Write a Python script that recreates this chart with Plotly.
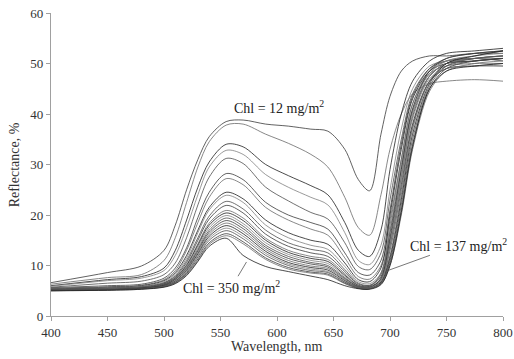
import plotly.graph_objects as go

# Knot wavelengths (nm) at which each reflectance spectrum is sampled
wavelength_nm = [400, 450, 480, 500, 510, 520, 530, 540, 555, 570, 590, 610, 630,
                 645, 660, 672, 682, 692, 700, 710, 720, 735, 750, 775, 800]

# Reflectance (%) per leaf sample, from lowest to highest chlorophyll content
r01 = [6.6, 8.6, 9.9, 13.0, 18.0, 25.0, 31.0, 35.5, 38.5, 38.8, 38.0, 37.6, 37.0,
       36.6, 33.0, 27.0, 24.8, 36.0, 43.5, 48.5, 50.5, 51.5, 51.5, 52.0, 52.0]
r02 = [6.3, 7.6, 8.2, 11.0, 15.5, 22.5, 29.5, 34.5, 37.8, 38.0, 36.0, 34.2, 32.0,
       29.5, 23.5, 17.5, 16.0, 24.0, 33.0, 40.0, 44.0, 46.0, 46.5, 46.8, 46.5]
r03 = [6.0, 7.2, 7.8, 9.5, 13.0, 19.0, 25.5, 30.5, 34.0, 33.5, 30.0, 27.8, 25.8,
       24.0, 18.5, 13.0, 11.8, 17.0, 29.0, 40.0, 46.5, 50.5, 52.0, 52.5, 53.0]
r04 = [5.9, 7.0, 7.5, 9.0, 12.0, 17.5, 24.0, 29.5, 32.8, 32.0, 28.0, 25.5, 23.5,
       22.0, 16.5, 11.0, 10.2, 14.0, 25.0, 37.0, 45.0, 49.5, 50.5, 51.0, 51.0]
r05 = [5.7, 6.5, 6.9, 8.2, 10.5, 15.5, 22.0, 27.5, 31.2, 30.2, 25.5, 22.8, 20.5,
       19.2, 14.5, 9.8, 9.2, 12.5, 23.0, 35.0, 44.0, 49.0, 50.5, 51.0, 50.5]
r06 = [5.6, 6.0, 6.3, 7.5, 9.5, 13.5, 19.5, 24.5, 28.2, 27.0, 22.5, 20.0, 18.5,
       17.2, 12.5, 8.6, 8.1, 11.0, 21.0, 34.0, 43.5, 49.0, 51.0, 52.0, 52.5]
r07 = [5.5, 5.8, 6.1, 7.2, 9.0, 13.0, 18.5, 23.5, 27.2, 26.0, 21.5, 19.0, 17.2,
       16.0, 11.5, 7.8, 7.3, 10.0, 19.0, 31.0, 42.0, 48.5, 50.5, 51.5, 52.5]
r08 = [5.4, 5.7, 6.0, 7.0, 8.6, 12.0, 17.0, 21.5, 24.5, 23.2, 19.0, 16.5, 15.0,
       14.2, 10.5, 7.2, 6.8, 9.5, 20.0, 33.0, 43.0, 48.5, 50.0, 50.5, 51.0]
r09 = [5.4, 5.6, 5.9, 6.8, 8.3, 11.5, 16.5, 21.0, 23.9, 22.5, 18.0, 15.5, 14.0,
       13.2, 9.8, 6.8, 6.4, 8.5, 17.0, 30.0, 41.0, 48.0, 50.5, 51.5, 52.0]
r10 = [5.3, 5.5, 5.8, 6.6, 8.0, 11.0, 15.5, 19.8, 22.7, 21.2, 17.0, 14.5, 13.2,
       12.5, 9.2, 6.5, 6.1, 8.2, 16.5, 29.0, 40.5, 47.5, 50.0, 51.0, 51.5]
r11 = [5.3, 5.5, 5.7, 6.5, 7.8, 10.6, 15.0, 19.2, 21.9, 20.4, 16.2, 13.8, 12.5,
       11.8, 8.8, 6.3, 6.0, 7.8, 15.0, 27.5, 39.5, 47.5, 50.0, 50.5, 51.0]
r12 = [5.3, 5.4, 5.7, 6.4, 7.6, 10.2, 14.3, 18.4, 20.9, 19.4, 15.4, 13.0, 11.8,
       11.2, 8.4, 6.1, 5.9, 8.5, 18.0, 31.0, 42.0, 48.0, 49.5, 50.0, 50.0]
r13 = [5.2, 5.4, 5.6, 6.3, 7.5, 10.0, 14.0, 18.0, 20.4, 18.9, 15.0, 12.6, 11.4,
       10.8, 8.1, 6.0, 5.8, 7.3, 14.0, 26.0, 38.0, 46.5, 49.0, 49.5, 49.5]
r14 = [5.2, 5.4, 5.6, 6.2, 7.4, 9.8, 13.6, 17.5, 19.9, 18.3, 14.5, 12.2, 11.0,
       10.4, 7.9, 5.9, 5.7, 7.2, 14.5, 27.5, 40.0, 47.5, 50.0, 51.0, 51.5]
r15 = [5.2, 5.3, 5.6, 6.2, 7.3, 9.6, 13.2, 17.0, 19.4, 17.8, 14.0, 11.8, 10.6,
       10.0, 7.6, 5.8, 5.7, 7.0, 13.0, 25.0, 37.5, 46.5, 49.5, 50.5, 51.0]
r16 = [5.2, 5.3, 5.5, 6.1, 7.2, 9.4, 12.9, 16.6, 18.9, 17.3, 13.6, 11.4, 10.3,
       9.7, 7.4, 5.8, 5.6, 7.5, 15.5, 29.0, 41.0, 48.5, 51.0, 52.0, 52.5]
r17 = [5.1, 5.3, 5.5, 6.0, 7.0, 9.2, 12.6, 16.2, 18.4, 16.8, 13.2, 11.0, 9.9,
       9.4, 7.2, 5.7, 5.6, 6.8, 12.0, 24.0, 37.0, 46.5, 50.0, 51.0, 51.5]
r18 = [5.1, 5.2, 5.5, 6.0, 6.9, 9.0, 12.3, 15.8, 17.9, 16.3, 12.8, 10.6, 9.6,
       9.1, 7.0, 5.6, 5.5, 6.7, 11.5, 23.0, 36.0, 46.0, 50.0, 51.5, 52.5]
r19 = [5.1, 5.2, 5.4, 5.9, 6.8, 8.8, 12.0, 15.4, 17.4, 15.8, 12.4, 10.3, 9.3,
       8.8, 6.8, 5.6, 5.5, 7.0, 13.5, 26.5, 39.0, 47.0, 49.0, 49.5, 50.0]
r20 = [5.1, 5.2, 5.4, 5.9, 6.7, 8.6, 11.7, 15.0, 16.9, 15.3, 12.0, 10.0, 9.0,
       8.6, 6.7, 5.5, 5.4, 6.5, 11.0, 22.0, 35.0, 45.5, 49.5, 51.0, 51.5]
r21 = [5.0, 5.2, 5.4, 5.8, 6.6, 8.4, 11.3, 14.5, 16.3, 14.7, 11.5, 9.6, 8.7,
       8.3, 6.5, 5.5, 5.4, 6.4, 10.5, 21.0, 34.0, 45.0, 49.0, 50.5, 51.0]
r22 = [5.0, 5.1, 5.3, 5.8, 6.5, 8.2, 11.0, 14.2, 15.9, 14.3, 11.2, 9.3, 8.5,
       8.1, 6.4, 5.5, 5.4, 6.3, 10.0, 20.0, 33.0, 44.5, 48.5, 50.0, 50.5]
r23 = [5.0, 5.1, 5.3, 5.7, 6.4, 8.0, 10.8, 13.8, 15.4, 12.0, 9.8, 8.8, 7.9,
       7.2, 6.0, 5.4, 5.3, 6.2, 10.0, 20.5, 33.5, 45.0, 48.5, 49.5, 50.0]

spectra = [r01, r02, r03, r04, r05, r06, r07, r08, r09, r10, r11, r12,
           r13, r14, r15, r16, r17, r18, r19, r20, r21, r22, r23]

line_colors = ["#3a3a3a", "#6a6a6a", "#1e1e1e", "#808080", "#4d4d4d"]

x_ticks = [400, 450, 500, 550, 600, 650, 700, 750, 800]
y_ticks = [0, 10, 20, 30, 40, 50, 60]

FONT = "Liberation Serif"
TEXT_COLOR = "#333333"

fig = go.Figure()
for i, refl in enumerate(spectra):
    fig.add_trace(go.Scatter(
        x=wavelength_nm, y=refl, mode="lines",
        line=dict(color=line_colors[i % len(line_colors)], width=0.8,
                  shape="spline", smoothing=0.9),
        hoverinfo="skip", showlegend=False,
    ))

axis_common = dict(
    showgrid=False, zeroline=False, showline=True, linecolor="#a0a0a0",
    linewidth=1.2, ticks="outside", ticklen=4, tickcolor="#a0a0a0",
    automargin=False,
    tickfont=dict(family=FONT, size=13, color=TEXT_COLOR),
)

fig.update_xaxes(range=[400, 800], tickvals=x_ticks, **axis_common)
fig.update_yaxes(range=[0, 60], tickvals=y_ticks, **axis_common)

# Axis titles, placed relative to the plotting area
title_font = dict(family=FONT, size=14, color=TEXT_COLOR)
fig.add_annotation(xref="paper", yref="paper", x=0.5, y=-0.102,
                   xanchor="center", yanchor="middle",
                   text="Wavelength, nm", showarrow=False, font=title_font)
fig.add_annotation(xref="paper", yref="paper", x=-0.08, y=0.5,
                   xanchor="center", yanchor="middle", textangle=-90,
                   text="Reflectance, %", showarrow=False, font=title_font)

label_font = dict(family=FONT, size=14, color="#222222")
fig.add_annotation(x=602, y=41.4, text="Chl = 12 mg/m<sup>2</sup>",
                   showarrow=False, font=label_font)
fig.add_annotation(x=573, y=10.7, ax=560, ay=5.8, axref="x", ayref="y",
                   text="Chl = 350 mg/m<sup>2</sup>", showarrow=True,
                   arrowhead=0, arrowwidth=0.8, arrowcolor="#555555",
                   font=label_font)
fig.add_annotation(x=695.6, y=8.8, ax=761, ay=14.1, axref="x", ayref="y",
                   text="Chl = 137 mg/m<sup>2</sup>", showarrow=True,
                   arrowhead=0, arrowwidth=0.8, arrowcolor="#555555",
                   font=label_font)

fig.update_layout(
    width=514, height=359,
    margin=dict(l=51, r=11, t=13, b=43),
    paper_bgcolor="white", plot_bgcolor="white",
)

fig.write_html("out.html")
